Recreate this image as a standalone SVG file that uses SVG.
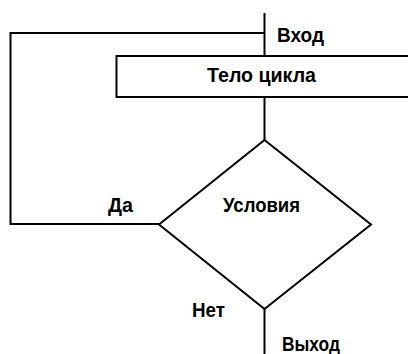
<svg xmlns="http://www.w3.org/2000/svg" width="408" height="354" viewBox="0 0 408 354">
<style>
.ln{fill:none;stroke:#000;stroke-width:2;stroke-linejoin:miter}
.sh{fill:#fff;stroke:#000;stroke-width:2}
text{font-family:"Liberation Sans",Arial,sans-serif;font-size:19.5px;font-weight:bold;fill:#000}
</style>
<rect width="408" height="354" fill="#fff"/>
<g id="connectors">
<path class="ln" d="M264.5,13 V56"/>
<path class="ln" d="M264.5,33 H10.5 V224 H159"/>
<path class="ln" d="M264.5,97 V140"/>
<path class="ln" d="M264.5,309 V354"/>
</g>
<g id="body">
<rect class="sh" x="116.5" y="56" width="300" height="41"/>
<text x="207" y="82" textLength="109" lengthAdjust="spacingAndGlyphs">Тело цикла</text>
</g>
<g id="condition">
<polygon class="sh" points="264.5,140 371,224.5 264.5,309 159,224.5"/>
<text x="223" y="212" textLength="77" lengthAdjust="spacingAndGlyphs">Условия</text>
</g>
<g id="labels">
<text x="277" y="41.5" textLength="47" lengthAdjust="spacingAndGlyphs">Вход</text>
<text x="108" y="212" textLength="25" lengthAdjust="spacingAndGlyphs">Да</text>
<text x="192" y="317" textLength="33" lengthAdjust="spacingAndGlyphs">Нет</text>
<text x="282" y="351" textLength="58" lengthAdjust="spacingAndGlyphs">Выход</text>
</g>
</svg>
